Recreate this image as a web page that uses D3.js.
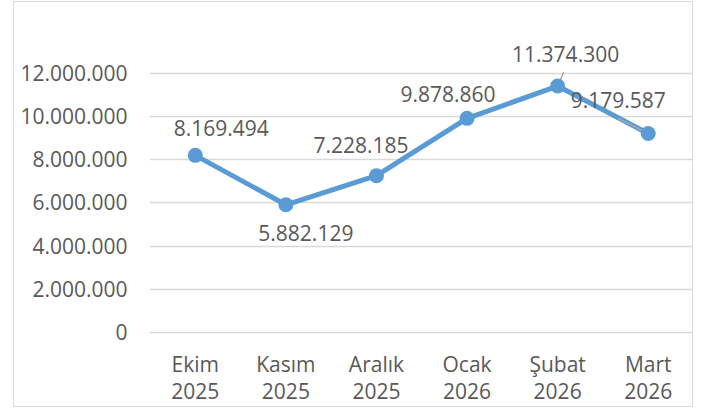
<!DOCTYPE html>
<html><head><meta charset="utf-8">
<script src="https://cdn.jsdelivr.net/npm/d3@7"></script>
<style>body{margin:0;background:#fff}svg{display:block}text{font-family:"Open Sans",sans-serif;fill:#595959}</style>
</head><body><div id="chart"></div>
<script>
const months = ["Ekim", "Kasım", "Aralık", "Ocak", "Şubat", "Mart"];
const years = ["2025", "2025", "2025", "2026", "2026", "2026"];
const values = [8169494, 5882129, 7228185, 9878860, 11374300, 9179587];
const yTicks = [0, 2000000, 4000000, 6000000, 8000000, 10000000, 12000000];
// label offsets (layout only): dx, dy from point to label centre
const labelOffsets = [[26,-26.5],[20,28.5],[-15.5,-30],[-19,-23.5],[8,-32],[-30,-33]];
const leaders = [false,false,false,false,true,true];

const W = 708, H = 415;
const FS = 21;
const svg = d3.select("#chart").append("svg").attr("width", W).attr("height", H);
svg.append("rect").attr("x",13.5).attr("y",1.5).attr("width",679).attr("height",405)
  .attr("fill","#fff").attr("stroke","#D9D9D9").attr("stroke-width",1);

const fmt = v => d3.format(",")(v).replace(/,/g, ".");
const x = d3.scaleBand().domain(months).range([150, 693.5]);
const y = d3.scaleLinear().domain([0, 12000000]).range([332, 72.5]);

// grid
svg.append("g").selectAll("line").data(yTicks).join("line")
  .attr("x1",150).attr("x2",692.5)
  .attr("y1",d=>Math.round(y(d))+0.5).attr("y2",d=>Math.round(y(d))+0.5)
  .attr("stroke","#D9D9D9").attr("stroke-width",1.3);

// y axis labels
const yAxis = d3.axisLeft(y).tickValues(yTicks).tickFormat(fmt).tickSize(0).tickPadding(0);
const ga = svg.append("g").attr("transform","translate(127.5,0)").call(yAxis);
ga.select(".domain").remove();
ga.selectAll("text").attr("font-size",FS).attr("fill","#595959").style("font-family","'Open Sans',sans-serif").attr("dy","0.36em");

// x axis labels
const xg = svg.append("g");
months.forEach((m,i)=>{
  const cx = x(m) + x.bandwidth()/2;
  const t = xg.append("text").attr("text-anchor","middle").attr("font-size",FS);
  t.append("tspan").attr("x",cx).attr("y",371.5).text(m);
  t.append("tspan").attr("x",cx).attr("y",399).text(years[i]);
});

const px = (d,i) => x(months[i]) + x.bandwidth()/2;
const line = d3.line().x(px).y(d=>y(d));
svg.append("path").datum(values).attr("d",line).attr("fill","none")
  .attr("stroke","#5B9BD5").attr("stroke-width",5).attr("stroke-linejoin","round");

// leader lines
values.forEach((v,i)=>{
  if(!leaders[i]) return;
  const x0 = px(v,i), y0 = y(v);
  const lx = x0 + labelOffsets[i][0], ly = y0 + labelOffsets[i][1];
  let x1, y1, x2, y2;
  if(i===4){ x1 = lx-2; y1 = ly+18; x2 = x0+2; y2 = y0-4; }
  else { x1 = lx; y1 = ly+18; x2 = x0-3; y2 = y0-1.5; }
  svg.append("line").attr("x1",x1).attr("y1",y1).attr("x2",x2).attr("y2",y2)
    .attr("stroke","#A6A6A6").attr("stroke-width",1.5);
});

svg.append("g").selectAll("circle").data(values).join("circle")
  .attr("cx",px).attr("cy",d=>y(d)).attr("r",7.5).attr("fill","#5B9BD5");

svg.append("g").selectAll("text").data(values).join("text")
  .attr("x",(d,i)=>px(d,i)+labelOffsets[i][0]).attr("y",(d,i)=>y(d)+labelOffsets[i][1])
  .attr("dy","0.36em").attr("text-anchor","middle").attr("font-size",FS)
  .text(fmt);
</script></body></html>
